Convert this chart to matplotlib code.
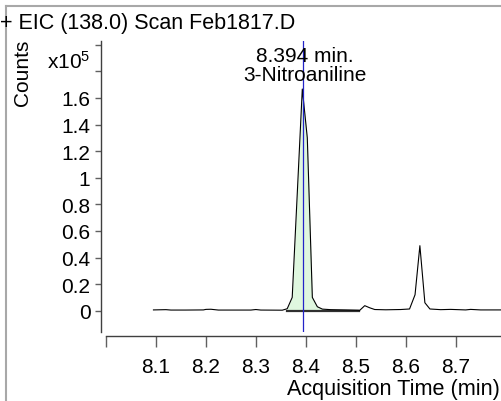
import matplotlib
matplotlib.use("Agg")
import matplotlib.pyplot as plt
from matplotlib.lines import Line2D
import numpy as np

# ---- data ----
time_min = [8.095, 8.12, 8.13, 8.16, 8.195, 8.20, 8.21, 8.225, 8.29, 8.30, 8.31,
            8.353, 8.3628, 8.3728, 8.3829, 8.3930, 8.4030, 8.4131, 8.4231, 8.4332,
            8.45, 8.48, 8.505, 8.508, 8.518, 8.528, 8.538, 8.56, 8.59,
            8.6077, 8.6187, 8.6284, 8.6384, 8.6485, 8.67, 8.69, 8.72, 8.73, 8.75, 8.80]
counts_e5 = [0.006, 0.008, 0.005, 0.005, 0.006, 0.010, 0.011, 0.005, 0.005, 0.009, 0.005,
             0.004, 0.015, 0.10, 0.88, 1.667, 1.30, 0.10, 0.03, 0.012,
             0.008, 0.006, 0.004, 0.003, 0.038, 0.022, 0.009, 0.007, 0.009,
             0.013, 0.12, 0.489, 0.06, 0.013, 0.008, 0.010, 0.006, 0.010, 0.006, 0.006]

peak_rt = 8.394
peak_name = "3-Nitroaniline"
integ_start, integ_end = 8.3628, 8.507
integ_level = 0.0

x_ticks = [8.0, 8.1, 8.2, 8.3, 8.4, 8.5, 8.6, 8.7]
x_labels = ["", "8.1", "8.2", "8.3", "8.4", "8.5", "8.6", "8.7"]
y_ticks = [0, 0.2, 0.4, 0.6, 0.8, 1.0, 1.2, 1.4, 1.6, 1.8, 2.0]
y_labels = ["0", "0.2", "0.4", "0.6", "0.8", "1", "1.2", "1.4", "1.6", "", ""]

title = "+ EIC (138.0) Scan Feb1817.D"

# ---- figure ----
W, H = 502, 402
dpi = 100
plt.rcParams['font.family'] = ['Liberation Sans', 'DejaVu Sans']
plt.rcParams['mathtext.fontset'] = 'custom'
plt.rcParams['mathtext.rm'] = 'Liberation Sans'
plt.rcParams['mathtext.it'] = 'Liberation Sans:italic'
fig = plt.figure(figsize=(W / dpi, H / dpi), dpi=dpi)
FS = 15

ax_l, ax_r, ax_t, ax_b = 106, 502, 42, 333
ax = fig.add_axes([ax_l / W, (H - ax_b) / H, (ax_r - ax_l) / W, (ax_b - ax_t) / H])
ax.set_xlim(8.0, 8.7928)
ax.set_ylim(-0.160, 2.028)

t = np.array(time_min)
c = np.array(counts_e5)
mask = (t >= integ_start - 1e-9) & (t <= integ_end + 1e-9)
ax.fill_between(t[mask], c[mask], integ_level, color='#dff7df', lw=0, zorder=1)
ax.plot(t, c, color='black', lw=0.8, zorder=3)
ax.plot([integ_start, integ_end], [integ_level, integ_level], color='#303030', lw=1.6, zorder=2)
ax.axvline(peak_rt, color='#2323c8', lw=0.9, zorder=4)

for s in ['top', 'right']:
    ax.spines[s].set_visible(False)
ax.spines['left'].set_position(('outward', 5 * 72 / dpi))
ax.spines['bottom'].set_position(('outward', 4 * 72 / dpi))
for s in ['left', 'bottom']:
    ax.spines[s].set_color('#404040')
    ax.spines[s].set_linewidth(1.0)

ax.set_xticks(x_ticks)
ax.set_xticklabels(x_labels, fontsize=FS)
ax.set_yticks(y_ticks)
ax.set_yticklabels(y_labels, fontsize=FS)
ax.tick_params(axis='y', direction='out', length=6 * 72 / dpi, width=1.0, color='#606060', pad=3.3)
ax.tick_params(axis='x', direction='out', length=11 * 72 / dpi, width=1.0, color='#606060', pad=7.5)

# texts in figure pixel coords
def fx(px):
    return px / W

def fy(py):
    return (H - py) / H

fig.text(fx(305), fy(66), f"{peak_rt:.3f} min.\n{peak_name}", ha='center', va='center',
         fontsize=FS, linespacing=1.0, zorder=5)
fig.text(fx(0), fy(24), title, ha='left', va='center', fontsize=15.5)
fig.text(fx(23), fy(73), "Counts", rotation=90, ha='center', va='center', fontsize=FS)
fig.text(fx(90), fy(69), r"x10$^{5}$", ha='right', va='baseline', fontsize=FS)
fig.text(fx(500), fy(390), "Acquisition Time (min)", ha='right', va='center', fontsize=15.6)

# gray frame
fig.add_artist(Line2D([fx(6), fx(502)], [fy(7), fy(7)], color='#a8a8a8', lw=1.5, transform=fig.transFigure))
fig.add_artist(Line2D([fx(6), fx(6)], [fy(7), fy(402)], color='#a8a8a8', lw=1.5, transform=fig.transFigure))

fig.savefig("out.png", dpi=dpi)
